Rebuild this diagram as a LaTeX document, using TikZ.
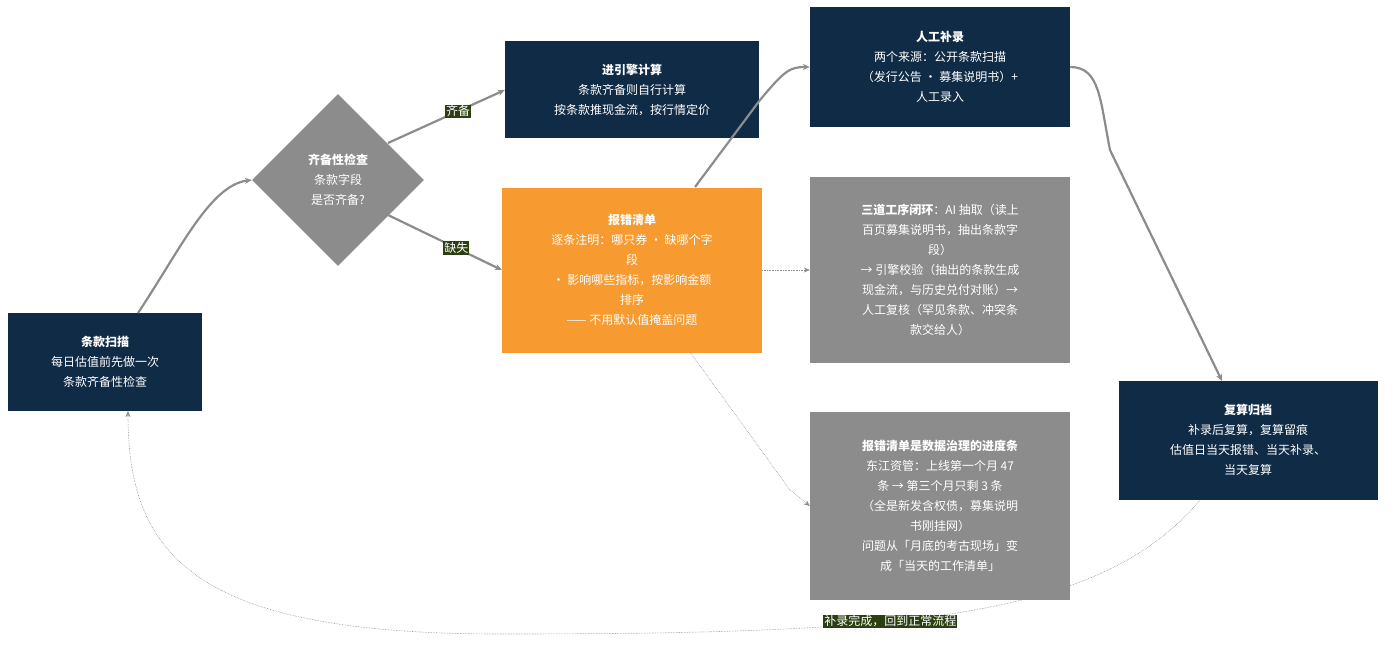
\documentclass[tikz,border=0pt]{standalone}
\usepackage{fontspec}
\setmainfont{Noto Sans CJK SC}
\usetikzlibrary{shapes.geometric,arrows.meta}
\definecolor{navy}{HTML}{0F2B45}
\definecolor{org}{HTML}{F79A30}
\definecolor{gr}{HTML}{8C8C8C}
\definecolor{lab}{HTML}{2B3F12}
\begin{document}
\begin{tikzpicture}[x=1pt,y=-1pt,
 box/.style={draw=none,text=white,align=center,inner sep=0pt,font=\fontsize{12}{20}\selectfont},
 main/.style={-{Stealth[length=7pt,width=6pt]},draw=gr,line width=2.2pt},
 dot/.style={-{Stealth[length=6pt,width=5pt]},draw=gr,densely dotted,line width=0.6pt},
 lbl/.style={fill=lab,text=white,inner sep=1pt,font=\fontsize{12}{14}\selectfont}]
\useasboundingbox (0,0) rectangle (1394,658);
\node[box,fill=navy,minimum width=194pt,minimum height=98pt] (scan) at (105,362) {\textbf{条款扫描}\\每日估值前先做一次\\条款齐备性检查};
\node[box,fill=gr,diamond,minimum width=172pt,minimum height=172pt,aspect=1] (chk) at (338,180) {\textbf{齐备性检查}\\条款字段\\是否齐备?};
\node[box,fill=navy,minimum width=254pt,minimum height=97pt] (eng) at (632,90) {\textbf{进引擎计算}\\条款齐备则自行计算\\按条款推现金流，按行情定价};
\node[box,fill=org,minimum width=260pt,minimum height=165pt] (err) at (632,270) {\textbf{报错清单}\\逐条注明：哪只券 · 缺哪个字\\段\\· 影响哪些指标，按影响金额\\排序\\—— 不用默认值掩盖问题};
\node[box,fill=navy,minimum width=260pt,minimum height=120pt] (man) at (940,67) {\textbf{人工补录}\\两个来源：公开条款扫描\\（发行公告 · 募集说明书）+\\人工录入};
\node[box,fill=gr,minimum width=260pt,minimum height=186pt] (three) at (940,270) {\textbf{三道工序闭环}：AI 抽取（读上\\百页募集说明书，抽出条款字\\段）\\→ 引擎校验（抽出的条款生成\\现金流，与历史兑付对账）→\\人工复核（罕见条款、冲突条\\款交给人）};
\node[box,fill=gr,minimum width=260pt,minimum height=188pt] (prog) at (940,506) {\textbf{报错清单是数据治理的进度条}\\东江资管：上线第一个月 47\\条 → 第三个月只剩 3 条\\（全是新发含权债，募集说明\\书刚挂网）\\问题从「月底的考古现场」变\\成「当天的工作清单」};
\node[box,fill=navy,minimum width=259pt,minimum height=119pt] (re) at (1248,440) {\textbf{复算归档}\\补录后复算，复算留痕\\估值日当天报错、当天补录、\\当天复算};
\draw[main] (138,313) .. controls (180,250) and (210,185) .. (chk.west);
\draw[main] (388,143) -- node[lbl,pos=0.6] {齐备} (eng.west);
\draw[main] (388,215) -- node[lbl,pos=0.6] {缺失} (err.west);
\draw[main] (695,187) -- (760,100) .. controls (785,70) and (790,67) .. (man.west);
\draw[main] (man.east) .. controls (1100,67) and (1100,100) .. (1110,150) -- (1222,381);
\draw[dot] (err.east) -- (three.west);
\draw[dot] (690,352) -- (790,490) -- (prog.west);
\draw[dot] (1200,500) .. controls (1100,620) and (900,634) .. node[lbl,pos=0.6]{补录完成，回到正常流程} (500,634) .. controls (200,634) and (128,560) .. (128,411);
\end{tikzpicture}
\end{document}
